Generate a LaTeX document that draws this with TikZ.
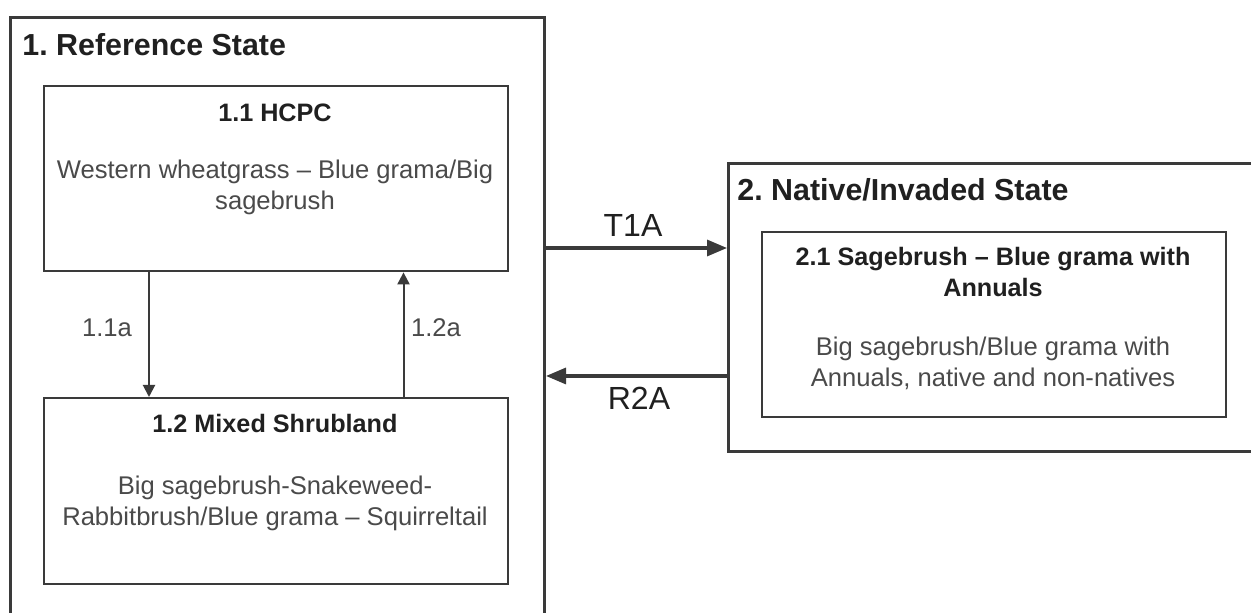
\documentclass[tikz,border=0pt]{standalone}
\usepackage{fontspec}
\setmainfont{Liberation Sans}
\usetikzlibrary{arrows.meta}
\definecolor{edge}{HTML}{3A3A3A}
\definecolor{head}{HTML}{202020}
\definecolor{body}{HTML}{4A4A4A}
\tikzset{
  outerbox/.style={draw=edge, line width=1.5pt, anchor=north west, inner sep=0pt},
  innerbox/.style={draw=edge, line width=1.2pt, anchor=north west, inner sep=0pt},
  titletext/.style={font=\fontsize{15.2}{18}\selectfont\bfseries, text=head, anchor=west, inner sep=0pt},
  headtext/.style={font=\fontsize{12.6}{15.5}\selectfont\bfseries, text=head, align=center, inner sep=0pt},
  bodytext/.style={font=\fontsize{12.8}{15.5}\selectfont, text=body, align=center, inner sep=0pt},
  lbltext/.style={font=\fontsize{12.8}{15.5}\selectfont, text=body, inner sep=0pt},
  biglbl/.style={font=\fontsize{16}{18}\selectfont, text=head, inner sep=0pt},
  thinarrow/.style={draw=edge, line width=1pt, -{Triangle[length=6pt,width=6pt]}},
  thickarrow/.style={draw=edge, line width=1.6pt, -{Triangle[length=10pt,width=8pt]}},
}
\begin{document}
\frenchspacing
\begin{tikzpicture}[x=1pt,y=1pt]
\useasboundingbox (0,0) rectangle (625.5,-306.5);
\clip (0,0) rectangle (625.5,-306.5);
\fill[white] (0,0) rectangle (625.5,-306.5);
% state boxes
\node[outerbox, minimum width=267pt, minimum height=312pt] (s1) at (4.5,-8) {};
\node[outerbox, minimum width=276.5pt, minimum height=144pt] (s2) at (363.5,-81) {};
\node[titletext] (t1) at (11,-22.5) {1. Reference State};
\node[titletext] (t2) at (368.5,-95) {2. Native/Invaded State};
% community boxes
\node[innerbox, minimum width=232pt, minimum height=92.5pt] (b11) at (21.5,-42.5) {};
\node[innerbox, minimum width=232pt, minimum height=93pt] (b12) at (21.5,-198.5) {};
\node[innerbox, minimum width=232pt, minimum height=92.5pt] (b21) at (380.5,-115.5) {};
\node[headtext] (h11) at (137.5,-56.5) {1.1 HCPC};
\node[bodytext] (d11) at (137.5,-93.75) {Western wheatgrass -- Blue grama/Big\\sagebrush};
\node[headtext] (h12) at (137.5,-211.5) {1.2 Mixed Shrubland};
\node[bodytext] (d12) at (137.5,-251.5) {Big sagebrush-Snakeweed-\\Rabbitbrush/Blue grama -- Squirreltail};
\node[headtext] (h21) at (496.5,-135.75) {2.1 Sagebrush -- Blue grama with\\Annuals};
\node[bodytext] (d21) at (496.5,-181.75) {Big sagebrush/Blue grama with\\Annuals, native and non-natives};
% connectors
\coordinate (xa) at (74.5,0);
\coordinate (xb) at (201.75,0);
\coordinate (ya) at (0,-124);
\coordinate (yb) at (0,-188);
\draw[thinarrow] (b11.south -| xa) -- (b12.north -| xa);
\draw[thinarrow] (b12.north -| xb) -- (b11.south -| xb);
\draw[thickarrow] (s1.east |- ya) -- (s2.west |- ya);
\draw[thickarrow] (s2.west |- yb) -- (s1.east |- yb);
\node[lbltext] (l1) at (53.5,-164) {1.1a};
\node[lbltext] (l2) at (218,-164) {1.2a};
\node[biglbl] (l3) at (316.5,-112.5) {T1A};
\node[biglbl] (l4) at (319.5,-199) {R2A};
\end{tikzpicture}
\end{document}
